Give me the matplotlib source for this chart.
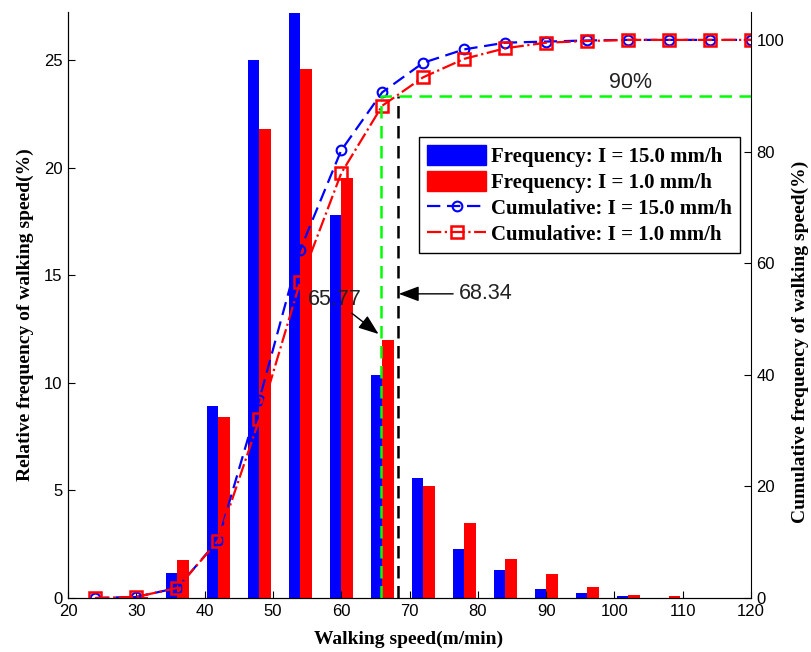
import matplotlib.pyplot as plt
import numpy as np
from matplotlib.patches import Patch
from matplotlib.lines import Line2D

speed = np.array([24, 30, 36, 42, 48, 54, 60, 66, 72, 78, 84, 90, 96, 102, 108, 114, 120])

freq_15 = [0.0, 0.1, 1.15, 8.9, 25.0, 27.2, 17.8, 10.36, 5.56, 2.28, 1.3, 0.42, 0.22, 0.08, 0.0, 0.0, 0.0]
freq_1 = [0.0, 0.05, 1.77, 8.43, 21.8, 24.6, 19.5, 11.99, 5.22, 3.5, 1.81, 1.1, 0.5, 0.14, 0.1, 0.0, 0.0]

cum_15 = [0.0, 0.2, 1.8, 10.4, 35.5, 62.4, 80.2, 90.6, 95.9, 98.3, 99.5, 99.7, 99.9, 100, 100, 100, 100]
cum_1 = [0.0, 0.2, 1.8, 10.3, 32.0, 56.7, 76.1, 88.2, 93.3, 96.6, 98.5, 99.5, 99.8, 100, 100, 100, 100]

v90_15 = 65.77
v90_1 = 68.34

label_font = dict(family="Liberation Serif", weight="bold", size=14)
tick_font = "Liberation Sans"

fig = plt.figure(figsize=(8.11, 6.52), dpi=100)
ax = fig.add_axes([68 / 811, 54 / 652, 683 / 811, 586 / 652])
ax2 = ax.twinx()

ax.bar(speed - 0.85, freq_15, width=1.65, color="#0000ff", linewidth=0)
ax.bar(speed + 0.85, freq_1, width=1.65, color="#ff0000", linewidth=0)

ax2.plot(speed, cum_15, "--", color="#0000ff", lw=1.6, marker="o", ms=7,
         mfc="none", mew=1.5, dashes=(6, 3))
ax2.plot(speed, cum_1, "-.", color="#ff0000", lw=1.6, marker="s", ms=9,
         mfc="none", mew=1.8)

# 90% guide lines
ax2.plot([v90_15, v90_15, 120], [0, 90, 90], "--", color="#00ff00", lw=1.8, dashes=(5, 3))
ax2.plot([v90_1, v90_1], [0, 90], "--", color="black", lw=1.8, dashes=(5, 3))

ax2.text(102.3, 90.4, "90%", ha="center", va="bottom", family=tick_font, size=15.5, color="#222222")
ax2.annotate("68.34", xy=(v90_1 + 0.1, 54.5), xytext=(77.2, 54.5), va="center", ha="left",
             family=tick_font, size=15.5, color="#222222",
             arrowprops=dict(arrowstyle="-|>,head_length=0.8,head_width=0.3", color="black", lw=1, shrinkA=2, shrinkB=0))
ax2.annotate("65.77", xy=(v90_15 - 0.3, 47.3), xytext=(63.0, 53.4), va="center", ha="right",
             family=tick_font, size=15.5, color="#222222",
             arrowprops=dict(arrowstyle="-|>,head_length=0.8,head_width=0.3", color="black", lw=1, shrinkA=0, shrinkB=0))

ax.set_xlim(20, 120)
ax.set_ylim(0, 27.23)
ax2.set_ylim(0, 105)
ax.set_xticks(np.arange(20, 121, 10))
ax.set_yticks([0, 5, 10, 15, 20, 25])
ax2.set_yticks([0, 20, 40, 60, 80, 100])

for a in (ax, ax2):
    a.spines["top"].set_visible(False)
    a.tick_params(direction="in", length=5, labelsize=12, pad=4)
    for t in a.get_xticklabels() + a.get_yticklabels():
        t.set_family(tick_font)
ax.spines["right"].set_visible(False)

ax.set_xlabel("Walking speed(m/min)", fontdict=label_font, va="center", ha="center")
ax.set_ylabel("Relative frequency of walking speed(%)", fontdict=label_font, va="center", ha="center")
ax2.set_ylabel("Cumulative frequency of walking speed(%)", fontdict=label_font, va="center", ha="center")
ax.yaxis.set_label_coords((25 - 68) / 683, (598 - 315) / 586)
ax2.yaxis.set_label_coords((800 - 68) / 683, (598 - 342) / 586)
ax.xaxis.set_label_coords((409 - 68) / 683, (598 - 639) / 586)

handles = [
    Patch(color="#0000ff", label="Frequency: I = 15.0 mm/h"),
    Patch(color="#ff0000", label="Frequency: I = 1.0 mm/h"),
    Line2D([], [], ls="--", color="#0000ff", lw=1.6, marker="o", ms=7, mfc="none", mew=1.5,
           dashes=(6, 3), label="Cumulative: I = 15.0 mm/h"),
    Line2D([], [], ls="-.", color="#ff0000", lw=1.6, marker="s", ms=9, mfc="none", mew=1.8,
           label="Cumulative: I = 1.0 mm/h"),
]
leg = ax2.legend(handles=handles, loc="upper left", bbox_to_anchor=(419 / 811, 1 - 137 / 652),
                 bbox_transform=fig.transFigure, borderaxespad=0, fancybox=False, framealpha=1,
                 edgecolor="black", prop=dict(family="Liberation Serif", weight="bold", size=15),
                 handlelength=2.8, handleheight=1.05, labelspacing=0.2, borderpad=0.4,
                 handletextpad=0.25)
leg.get_frame().set_linewidth(1.0)

fig.savefig("out.png", dpi=100)
